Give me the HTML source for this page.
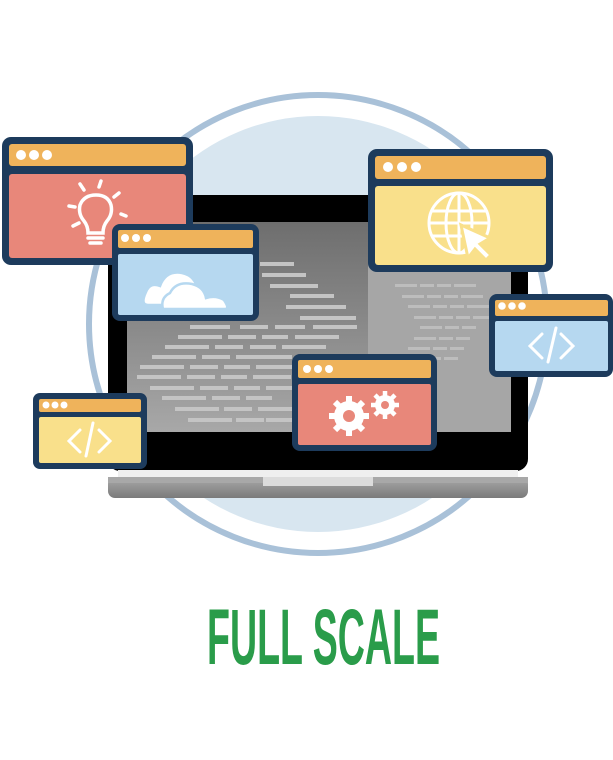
<!DOCTYPE html>
<html><head><style>
html,body{margin:0;padding:0;background:#fff;}
svg{display:block;}
</style></head><body>
<svg width="613" height="760" viewBox="0 0 613 760" xmlns="http://www.w3.org/2000/svg">
<defs>
<linearGradient id="scr" x1="0" y1="0" x2="0" y2="1">
<stop offset="0" stop-color="#6e6e6e"/><stop offset="0.5" stop-color="#8a8a8a"/><stop offset="1" stop-color="#a8a8a8"/>
</linearGradient>
<linearGradient id="base" x1="0" y1="0" x2="0" y2="1">
<stop offset="0" stop-color="#aaaaaa"/><stop offset="1" stop-color="#7a7a7a"/>
</linearGradient>
</defs>
<!-- background circle -->
<circle cx="318" cy="324" r="229" fill="none" stroke="#a9c1d8" stroke-width="6"/>
<circle cx="318" cy="324" r="208" fill="#d8e6f0"/>
<!-- laptop -->
<rect x="108" y="195" width="420" height="276" rx="12" fill="#000"/>
<rect x="127" y="222" width="384" height="210" fill="url(#scr)"/>
<rect x="368" y="222" width="143" height="210" fill="#a6a6a6"/>
<g fill="#c4c4c4">
<rect x="260" y="262" width="34" height="4"/><rect x="262" y="273" width="44" height="4"/>
<rect x="270" y="284" width="48" height="4"/><rect x="290" y="294" width="44" height="4"/>
<rect x="286" y="305" width="60" height="4"/><rect x="300" y="316" width="56" height="4"/>
<rect x="190" y="325" width="40" height="4"/><rect x="240" y="325" width="28" height="4"/><rect x="275" y="325" width="30" height="4"/><rect x="313" y="325" width="44" height="4"/>
<rect x="178" y="335" width="44" height="4"/><rect x="228" y="335" width="28" height="4"/><rect x="262" y="335" width="26" height="4"/><rect x="295" y="335" width="44" height="4"/>
<rect x="165" y="345" width="44" height="4"/><rect x="215" y="345" width="28" height="4"/><rect x="250" y="345" width="26" height="4"/><rect x="282" y="345" width="44" height="4"/>
<rect x="152" y="355" width="44" height="4"/><rect x="202" y="355" width="28" height="4"/><rect x="236" y="355" width="26" height="4"/><rect x="262" y="355" width="30" height="4"/>
<rect x="140" y="365" width="44" height="4"/><rect x="190" y="365" width="28" height="4"/><rect x="224" y="365" width="26" height="4"/><rect x="256" y="365" width="36" height="4"/>
<rect x="137" y="375" width="44" height="4"/><rect x="187" y="375" width="28" height="4"/><rect x="221" y="375" width="26" height="4"/><rect x="253" y="375" width="38" height="4"/>
<rect x="150" y="386" width="44" height="4"/><rect x="200" y="386" width="28" height="4"/><rect x="234" y="386" width="26" height="4"/><rect x="266" y="386" width="26" height="4"/>
<rect x="162" y="396" width="44" height="4"/><rect x="212" y="396" width="28" height="4"/><rect x="246" y="396" width="26" height="4"/>
<rect x="175" y="407" width="44" height="4"/><rect x="224" y="407" width="28" height="4"/><rect x="258" y="407" width="34" height="4"/>
<rect x="188" y="418" width="44" height="4"/><rect x="236" y="418" width="28" height="4"/><rect x="266" y="418" width="26" height="4"/>
</g>
<g fill="#bdbdbd">
<rect x="395" y="284" width="22" height="3"/><rect x="420" y="284" width="14" height="3"/><rect x="437" y="284" width="14" height="3"/><rect x="454" y="284" width="22" height="3"/>
<rect x="402" y="295" width="22" height="3"/><rect x="427" y="295" width="14" height="3"/><rect x="444" y="295" width="14" height="3"/><rect x="461" y="295" width="22" height="3"/>
<rect x="408" y="305" width="22" height="3"/><rect x="433" y="305" width="14" height="3"/><rect x="450" y="305" width="14" height="3"/><rect x="467" y="305" width="22" height="3"/>
<rect x="414" y="316" width="22" height="3"/><rect x="439" y="316" width="14" height="3"/><rect x="456" y="316" width="14" height="3"/><rect x="473" y="316" width="22" height="3"/>
<rect x="420" y="326" width="22" height="3"/><rect x="445" y="326" width="14" height="3"/><rect x="462" y="326" width="14" height="3"/>
<rect x="414" y="337" width="22" height="3"/><rect x="439" y="337" width="14" height="3"/><rect x="456" y="337" width="14" height="3"/>
<rect x="408" y="347" width="22" height="3"/><rect x="433" y="347" width="14" height="3"/><rect x="450" y="347" width="14" height="3"/>
<rect x="402" y="357" width="22" height="3"/><rect x="427" y="357" width="14" height="3"/><rect x="444" y="357" width="14" height="3"/>
</g>
<rect x="118" y="470" width="400" height="8" fill="#efefef"/>
<rect x="108" y="477" width="420" height="21" rx="7" fill="url(#base)"/>
<rect x="108" y="477" width="420" height="6" fill="#a8a8a8"/>
<rect x="263" y="477" width="110" height="9" fill="#dcdcdc"/>

<!-- window: bulb -->
<rect x="2" y="137" width="191" height="128" rx="9" fill="#1d3b5c"/>
<rect x="9" y="144" width="177" height="22" rx="3" fill="#efb35b"/>
<rect x="9" y="174" width="177" height="84" rx="3" fill="#e8877a"/>
<g fill="#fff"><circle cx="21" cy="155" r="5"/><circle cx="34" cy="155" r="5"/><circle cx="47" cy="155" r="5"/></g>
<g stroke="#fff" stroke-width="3.5" fill="none" stroke-linecap="round">
<path d="M88 233 Q88 226 84 221 Q78 214 80 205 Q84 195 96 195 Q108 195 111 205 Q113 214 107 221 Q103 226 103 233 Z"/>
<line x1="88" y1="238" x2="103" y2="238"/><line x1="90" y1="243" x2="101" y2="243"/>
<line x1="101" y1="181" x2="99" y2="187"/><line x1="80" y1="184" x2="84" y2="190"/><line x1="119" y1="193" x2="114" y2="197"/>
<line x1="69" y1="206" x2="75" y2="207"/><line x1="121" y1="214" x2="126" y2="216"/><line x1="73" y1="226" x2="79" y2="223"/>
</g>

<!-- window: cloud -->
<rect x="112" y="224" width="147" height="97" rx="8" fill="#1d3b5c"/>
<rect x="118" y="230" width="135" height="18" rx="2" fill="#efb35b"/>
<rect x="118" y="254" width="135" height="61" rx="2" fill="#b6d8f0"/>
<g fill="#fff"><circle cx="125" cy="238" r="4"/><circle cx="136" cy="238" r="4"/><circle cx="147" cy="238" r="4"/></g>
<g fill="#fff" stroke="#b6d8f0" stroke-width="2.5">
<path d="M148 305 Q140 305 146 292 Q150 282 160 286 Q166 270 182 273 Q196 276 197 290 Q210 292 205 305 Z"/>
<path d="M163 309 Q160 298 170 293 Q176 281 192 284 Q204 287 206 298 Q216 295 224 300 Q230 309 225 309 Z"/>
</g>

<!-- window: globe -->
<rect x="368" y="149" width="185" height="123" rx="9" fill="#1d3b5c"/>
<rect x="375" y="156" width="171" height="23" rx="3" fill="#efb35b"/>
<rect x="375" y="186" width="171" height="79" rx="3" fill="#f9e08b"/>
<g fill="#fff"><circle cx="388" cy="167" r="5"/><circle cx="402" cy="167" r="5"/><circle cx="416" cy="167" r="5"/></g>
<g stroke="#fff" stroke-width="3" fill="none">
<circle cx="459" cy="223" r="30"/>
<ellipse cx="459" cy="223" rx="13" ry="30"/>
<line x1="459" y1="193" x2="459" y2="253"/>
<line x1="431" y1="211" x2="487" y2="211"/><line x1="430" y1="223" x2="488" y2="223"/><line x1="431" y1="236" x2="487" y2="236"/>
</g>
<path d="M461 225 L468 258 L475 249 L486 260 L491 255 L480 244 L490 238 Z" fill="#fff" stroke="#f9e08b" stroke-width="3"/>

<!-- window: code right -->
<rect x="489" y="294" width="124" height="83" rx="8" fill="#1d3b5c"/>
<rect x="495" y="300" width="113" height="16" rx="2" fill="#efb35b"/>
<rect x="495" y="321" width="113" height="50" rx="2" fill="#b6d8f0"/>
<g fill="#fff"><circle cx="502" cy="306" r="3.8"/><circle cx="512" cy="306" r="3.8"/><circle cx="522" cy="306" r="3.8"/></g>
<g stroke="#fff" stroke-width="3" fill="none" stroke-linecap="round">
<polyline points="542,334 530,346 542,358"/><polyline points="561,334 573,346 561,358"/><line x1="556" y1="328" x2="548" y2="362"/>
</g>

<!-- window: code left -->
<rect x="33" y="393" width="114" height="76" rx="7" fill="#1d3b5c"/>
<rect x="39" y="399" width="102" height="13" rx="2" fill="#efb35b"/>
<rect x="39" y="417" width="102" height="46" rx="2" fill="#f9e08b"/>
<g fill="#fff"><circle cx="46" cy="405" r="3.5"/><circle cx="55" cy="405" r="3.5"/><circle cx="64" cy="405" r="3.5"/></g>
<g stroke="#fff" stroke-width="3" fill="none" stroke-linecap="round">
<polyline points="80,430 69,441 80,452"/><polyline points="99,430 110,441 99,452"/><line x1="93" y1="423" x2="86" y2="456"/>
</g>

<!-- window: gears -->
<rect x="292" y="354" width="145" height="97" rx="8" fill="#1d3b5c"/>
<rect x="298" y="360" width="133" height="18" rx="2" fill="#efb35b"/>
<rect x="298" y="384" width="133" height="61" rx="2" fill="#e8877a"/>
<g fill="#fff"><circle cx="307" cy="369" r="4"/><circle cx="318" cy="369" r="4"/><circle cx="329" cy="369" r="4"/></g>
<g fill="#fff">
<circle cx="349" cy="416" r="15"/>
<g stroke="#fff" stroke-width="6">
<line x1="349" y1="396" x2="349" y2="436"/><line x1="329" y1="416" x2="369" y2="416"/>
<line x1="335" y1="402" x2="363" y2="430"/><line x1="363" y1="402" x2="335" y2="430"/>
</g>
<circle cx="385" cy="405" r="10"/>
<g stroke="#fff" stroke-width="4.5">
<line x1="385" y1="391" x2="385" y2="419"/><line x1="371" y1="405" x2="399" y2="405"/>
<line x1="375" y1="395" x2="395" y2="415"/><line x1="395" y1="395" x2="375" y2="415"/>
</g>
</g>
<circle cx="349" cy="416" r="6" fill="#e8877a"/>
<circle cx="385" cy="405" r="4" fill="#e8877a"/>

<!-- title -->
<text x="207" y="664" textLength="233" lengthAdjust="spacingAndGlyphs" font-family="Liberation Sans Narrow, Liberation Sans, sans-serif" font-weight="bold" font-size="79" fill="#2a9c4a">FULL SCALE</text>
</svg>
</body></html>
